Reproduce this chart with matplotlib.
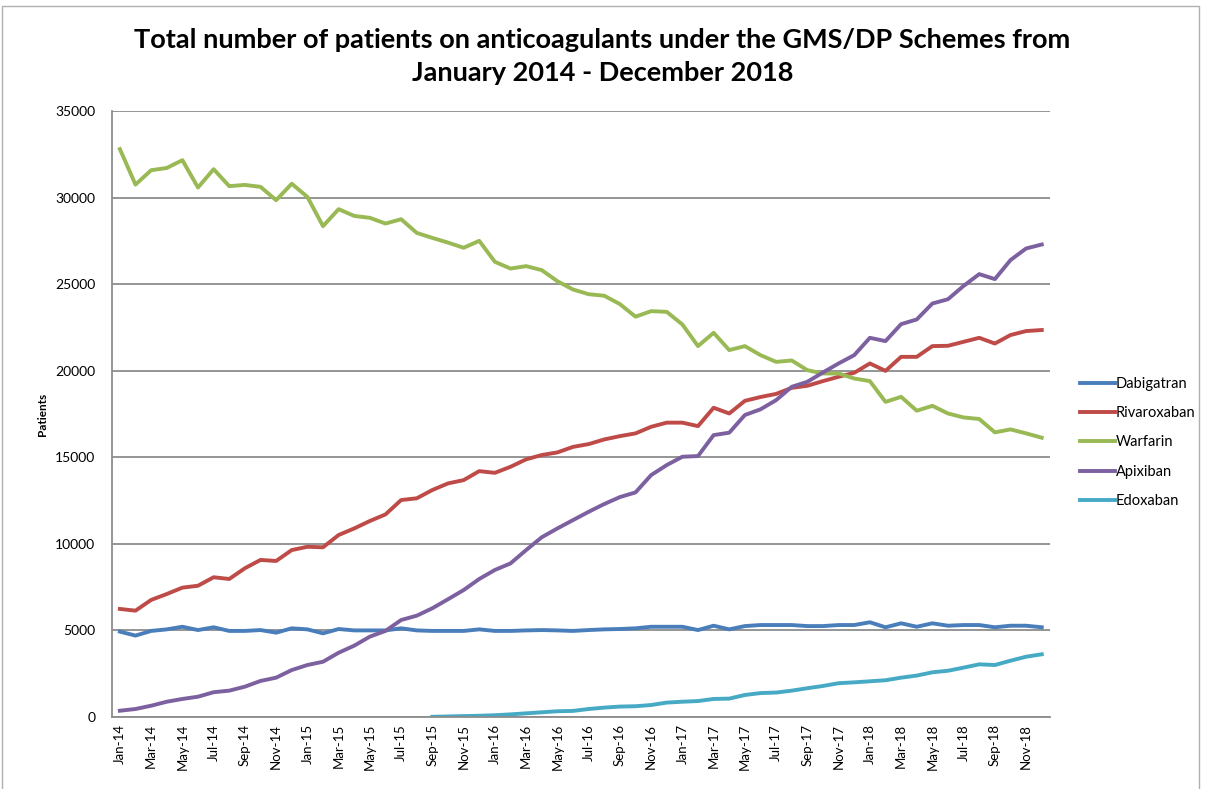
import matplotlib
matplotlib.use("Agg")
import matplotlib.pyplot as plt
import numpy as np
from matplotlib.patches import Rectangle

months = []
for yr in range(14, 19):
    for m in ["Jan", "Feb", "Mar", "Apr", "May", "Jun", "Jul", "Aug", "Sep", "Oct", "Nov", "Dec"]:
        months.append(f"{m}-{yr}")

dabigatran = [4930, 4700, 4970, 5060, 5210, 5020, 5180, 4970, 4970, 5020,
              4870, 5120, 5060, 4830, 5080, 5000, 5000, 5000, 5120, 5000,
              4970, 4970, 4970, 5060, 4970, 4970, 5000, 5020, 5000, 4970,
              5020, 5060, 5080, 5120, 5210, 5210, 5210, 5020, 5270, 5060,
              5250, 5310, 5310, 5310, 5250, 5250, 5310, 5310, 5470, 5180,
              5410, 5210, 5410, 5270, 5310, 5310, 5180, 5270, 5270, 5180]

rivaroxaban = [6240, 6140, 6760, 7100, 7470, 7580, 8070, 7970, 8590, 9070,
               9010, 9640, 9830, 9800, 10510, 10890, 11320, 11700, 12530, 12630,
               13110, 13490, 13680, 14200, 14100, 14450, 14880, 15130, 15280, 15600,
               15760, 16030, 16220, 16380, 16760, 17000, 17000, 16800, 17860, 17530,
               18260, 18480, 18660, 19010, 19130, 19400, 19650, 19880, 20420, 19990,
               20800, 20800, 21420, 21440, 21670, 21900, 21570, 22060, 22290, 22350]

warfarin = [32800, 30750, 31580, 31710, 32160, 30580, 31640, 30660, 30730, 30620,
            29850, 30800, 30040, 28350, 29330, 28940, 28830, 28500, 28750, 27960,
            27670, 27400, 27100, 27500, 26290, 25900, 26040, 25810, 25170, 24690,
            24420, 24330, 23850, 23120, 23440, 23400, 22670, 21420, 22190, 21190,
            21420, 20900, 20510, 20590, 20030, 19840, 19840, 19550, 19400, 18200,
            18490, 17690, 17970, 17530, 17300, 17210, 16440, 16610, 16380, 16130]

apixiban = [360, 460, 650, 880, 1040, 1170, 1430, 1520, 1750, 2080,
            2270, 2710, 3000, 3190, 3710, 4120, 4640, 4970, 5600, 5850,
            6280, 6800, 7330, 7970, 8490, 8870, 9640, 10380, 10890, 11370,
            11850, 12300, 12700, 12970, 13970, 14550, 15030, 15070, 16280, 16420,
            17440, 17770, 18300, 19070, 19360, 19900, 20420, 20900, 21900, 21710,
            22690, 22960, 23880, 24130, 24900, 25580, 25290, 26390, 27060, 27290]

edoxaban = [np.nan] * 20 + [10, 30, 50, 70, 100, 150, 210, 270, 330, 350,
                            460, 540, 600, 620, 690, 830, 880, 920, 1040, 1060,
                            1270, 1380, 1410, 1520, 1660, 1790, 1950, 2000, 2060, 2120,
                            2270, 2390, 2580, 2670, 2850, 3040, 3000, 3250, 3480, 3620]

series = [("Dabigatran", dabigatran, "#4A7EBB"),
          ("Rivaroxaban", rivaroxaban, "#BE4B48"),
          ("Warfarin", warfarin, "#98B954"),
          ("Apixiban", apixiban, "#7D60A0"),
          ("Edoxaban", edoxaban, "#46AAC5")]

yticks = [0, 5000, 10000, 15000, 20000, 25000, 30000, 35000]

plt.rcParams['font.family'] = ['Lato', 'DejaVu Sans']

fig = plt.figure(figsize=(12.05, 7.89), dpi=100)
ax = fig.add_axes([0.093, 0.0913, 0.778, 0.768])

x = np.arange(len(months))
for name, vals, col in series:
    ax.plot(x, vals, color=col, lw=2.8, label=name, solid_joinstyle='round')

ax.set_xlim(-0.5, len(months) - 0.5)
ax.set_ylim(0, 35000)
ax.set_yticks(yticks)
ax.set_yticklabels([str(v) for v in yticks], fontsize=10)
ax.yaxis.grid(True, color="#8c8c8c", lw=1.3)
ax.set_axisbelow(True)
ax.set_xticks(x[::2])
ax.set_xticklabels(months[::2], rotation=90, fontsize=9.5)
ax.tick_params(axis='x', length=0, pad=5)
ax.tick_params(axis='y', length=0, pad=12)
for s in ["top", "right"]:
    ax.spines[s].set_visible(False)
for s in ["left", "bottom"]:
    ax.spines[s].set_color("#8c8c8c")
    ax.spines[s].set_linewidth(1.3)

ax.set_ylabel("Patients", fontsize=8.5, fontweight="bold", labelpad=5)

fig.suptitle("Total number of patients on anticoagulants under the GMS/DP Schemes from\nJanuary 2014 - December 2018",
             fontsize=19.5, fontweight="bold", y=0.965, linespacing=1.45)

leg = fig.legend(loc="upper left", bbox_to_anchor=(0.885, 0.539), frameon=False,
                 fontsize=10.5, handlelength=2.4, handletextpad=0.1, labelspacing=1.05)

fig.patches.append(Rectangle((0.002, -0.01), 0.993, 1.003, transform=fig.transFigure,
                             fill=False, edgecolor="#b0b0b0", lw=1.0))

fig.savefig("out.png", dpi=100)
